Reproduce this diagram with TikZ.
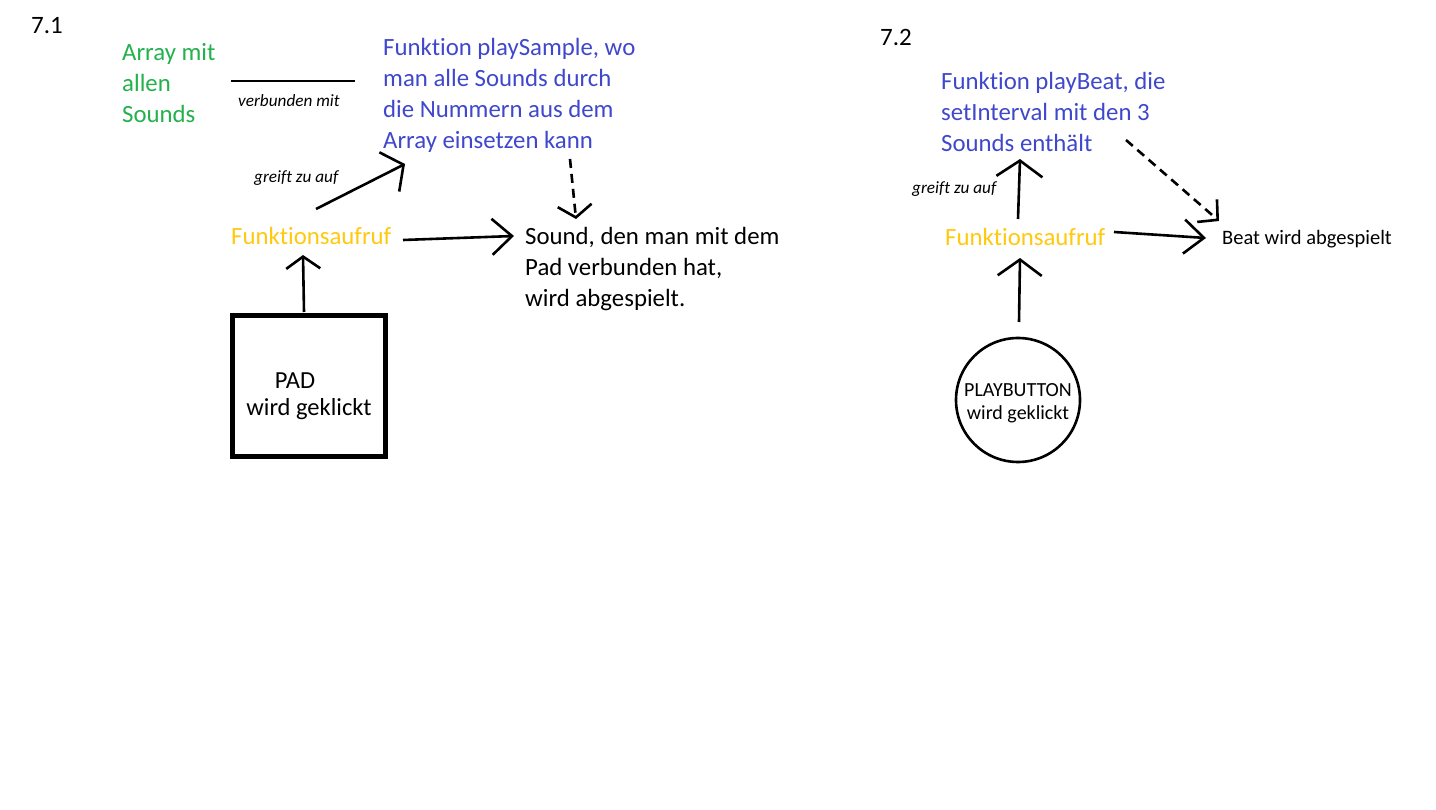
\documentclass[tikz,border=0pt]{standalone}
\usepackage{fontspec}
\setmainfont{Carlito}[Ligatures=NoCommon]
\usetikzlibrary{arrows.meta}
\definecolor{pgreen}{HTML}{22B14C}
\definecolor{pblue}{HTML}{3F48CC}
\definecolor{pyellow}{HTML}{FFC90E}
\begin{document}
\begin{tikzpicture}[x=1pt,y=-1pt,
  txt/.style={inner sep=0pt,anchor=base west,align=left},
  big/.style={font=\fontsize{24.8}{31}\selectfont},
  small/.style={font=\fontsize{17.2}{20}\selectfont\itshape},
  harrow/.style 2 args={line width=2.6pt,-{Straight Barb[length=#1pt,width=#2pt,line width=2.6pt]}},
  hdash/.style={dash pattern=on 9pt off 6pt}
]
\useasboundingbox (0,0) rectangle (1436,810);
\fill[white] (0,0) rectangle (1436,810);

% ---------- 7.1 ----------
\node[txt,font=\fontsize{25}{30}\selectfont] (t71) at (31,34) {7.1};
\node[txt,big,text=pgreen] (arr) at (122,123) {Array mit\\allen\\Sounds};
\node[txt,big,text=pblue] (ps) at (383,149) {Funktion playSample, wo\\man alle Sounds durch\\die Nummern aus dem\\Array einsetzen kann};
\coordinate (l1) at (231,81);
\coordinate (l2) at (355,81);
\draw[line width=2.6pt] (l1) -- (l2);
\node[txt,small] (vm) at (238,107) {verbunden mit};

\node[txt,big,text=pyellow] (fa1) at (231,245) {Funktionsaufruf};
\node[txt,big] (snd) at (525,307) {Sound, den man mit dem\\Pad verbunden hat,\\wird abgespielt.};
\node[txt,small] (gz1) at (254,183) {greift zu auf};

\node[draw,line width=5pt,minimum width=153pt,minimum height=141pt,inner sep=0pt] (pad) at (309,386) {};
\node[txt,font=\fontsize{24.5}{27}\selectfont,align=center,anchor=base] (padtxt) at (309,415)
  {\hspace*{-28pt}PAD\\wird geklickt};

\coordinate (a1s) at (316,209);
\coordinate (a1e) at (405,164);
\draw[harrow={16}{44}] (a1s) -- (a1e);
\coordinate (a2s) at (403,240);
\coordinate (a2e) at (514,236);
\draw[harrow={20}{36}] (a2s) -- (a2e);
\coordinate (a3s) at (570,159);
\coordinate (a3e) at (576,219);
\draw[harrow={12}{34},hdash] (a3s) -- (a3e);
\coordinate (a4s) at (304,312);
\coordinate (a4e) at (303,255);
\draw[harrow={12}{34}] (a4s) -- (a4e);

% ---------- 7.2 ----------
\node[txt,font=\fontsize{25}{30}\selectfont] (t72) at (880,46) {7.2};
\node[txt,big,text=pblue] (pb) at (941,152) {Funktion playBeat, die\\setInterval mit den 3\\Sounds enthält};
\node[txt,small] (gz2) at (912,194) {greift zu auf};
\node[txt,big,text=pyellow] (fa2) at (945,246) {Funktionsaufruf};
\node[txt,font=\fontsize{20.5}{24}\selectfont] (beat) at (1222,245) {Beat wird abgespielt};

\node[draw,circle,line width=2.6pt,minimum size=124pt,inner sep=0pt] (btn) at (1018,400) {};
\node[txt,font=\fontsize{20}{24}\selectfont,align=center,anchor=base] (btntxt) at (1018,420)
  {PLAYBUTTON\\wird geklickt};

\coordinate (b1s) at (1018,219);
\coordinate (b1e) at (1020,159);
\draw[harrow={16}{46}] (b1s) -- (b1e);
\coordinate (b2s) at (1114,232);
\coordinate (b2e) at (1206,238);
\draw[harrow={20}{34}] (b2s) -- (b2e);
\coordinate (b3s) at (1126,140);
\coordinate (b3e) at (1219,221);
\draw[harrow={14}{30},hdash] (b3s) -- (b3e);
\coordinate (b4s) at (1019,322);
\coordinate (b4e) at (1020,258);
\draw[harrow={16}{44}] (b4s) -- (b4e);
\end{tikzpicture}
\end{document}
